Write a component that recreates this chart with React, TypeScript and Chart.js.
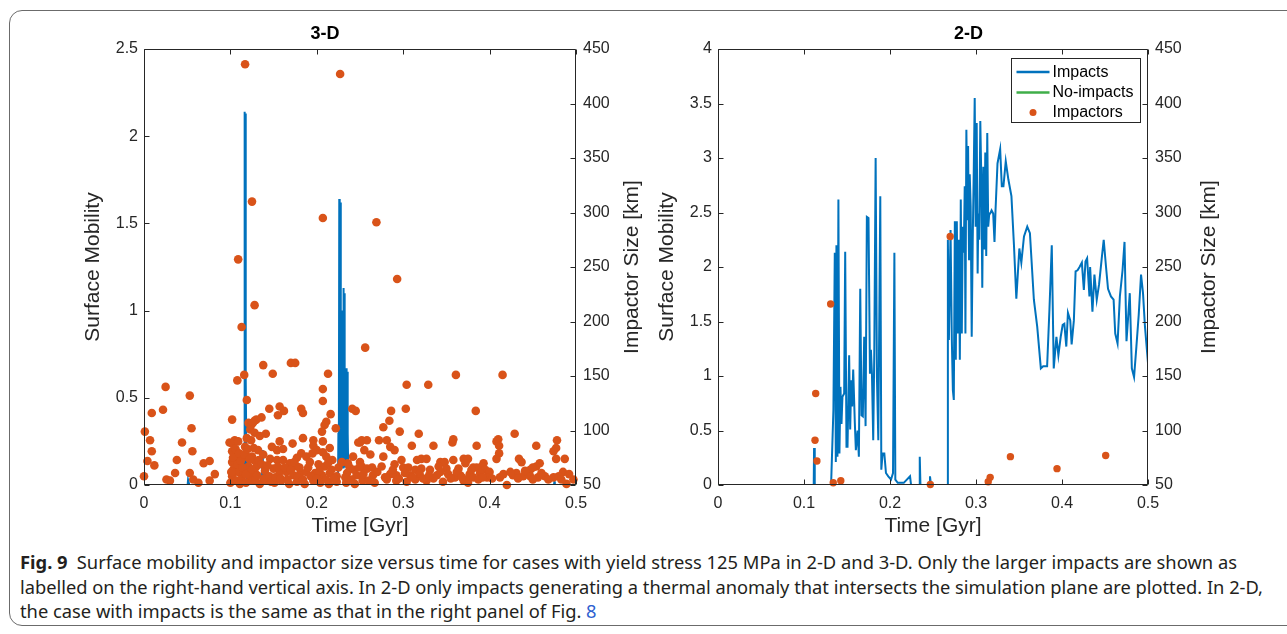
import React, { useEffect, useLayoutEffect, useRef } from 'react';
import { Chart, registerables } from 'chart.js';

Chart.register(...registerables);

// ---------------- Data ----------------
const X_TICKS = [0, 0.1, 0.2, 0.3, 0.4, 0.5];
const MOBILITY_TICKS_3D = [0, 0.5, 1, 1.5, 2, 2.5];
const MOBILITY_TICKS_2D = [0, 0.5, 1, 1.5, 2, 2.5, 3, 3.5, 4];
const SIZE_TICKS = [50, 100, 150, 200, 250, 300, 350, 400, 450];

// 3-D: surface mobility with impacts [time Gyr, mobility]
const IMPACTS_3D: [number, number][] = [
  [0, 0], [0.0505, 0], [0.051, 0.03], [0.052, 0.03], [0.0525, 0],
  [0.1155, 0], [0.116, 0.12], [0.1165, 2.14], [0.117, 0.35], [0.1175, 2.13], [0.118, 0.6],
  [0.1185, 0.15], [0.119, 0.05], [0.12, 0],
  [0.1365, 0], [0.137, 0.2], [0.1375, 0.18], [0.138, 0],
  [0.2245, 0], [0.225, 0.3], [0.2255, 0.1], [0.226, 1.64], [0.2265, 0.2], [0.227, 1.62],
  [0.2275, 0.15], [0.228, 0.59], [0.2285, 0.1], [0.229, 1.0], [0.2295, 0.2], [0.23, 0.5],
  [0.2305, 0.1], [0.231, 1.13], [0.2315, 0.15], [0.232, 1.1], [0.2325, 0.1], [0.233, 0.6],
  [0.2335, 0.12], [0.234, 0.67], [0.2345, 0.1], [0.235, 0.65], [0.2355, 0.08], [0.236, 0.3],
  [0.2365, 0.05], [0.237, 0.1], [0.238, 0],
  [0.4745, 0], [0.475, 0.02], [0.4755, 0], [0.5, 0],
];
const NO_IMPACTS_3D: [number, number][] = [[0, 0], [0.5, 0]];

// 3-D impactors [time Gyr, size km]
const IMPACTORS_3D: [number, number][] = [
  [0.117, 436], [0.227, 427], [0.125, 310], [0.207, 295], [0.269, 291], [0.293, 239], [0.109, 257],
  [0.128, 215], [0.113, 195], [0.256, 176], [0.170, 162], [0.175, 162], [0.138, 160], [0.116, 151],
  [0.108, 146], [0.149, 152], [0.213, 152], [0.361, 151], [0.415, 151], [0.304, 142], [0.329, 142],
  [0.025, 140], [0.053, 132], [0.207, 138], [0.207, 127], [0.119, 128], [0.009, 116], [0.022, 119],
  [0.102, 110], [0.145, 120], [0.157, 122], [0.182, 120], [0.184, 116], [0.303, 120], [0.286, 118],
  [0.384, 118], [0.241, 120], [0.245, 118], [0.001, 99], [0.055, 102], [0.007, 91], [0.044, 89],
  [0.318, 97], [0.429, 97], [0.357, 89], [0.277, 103], [0.284, 109],
  [0.009, 81], [0.056, 81], [0.038, 73], [0.004, 72], [0.012, 68], [0.069, 70], [0.076, 72],
  [0.036, 61], [0.053, 61], [0.082, 60], [0.000, 58], [0.026, 55], [0.030, 54], [0.057, 55],
  [0.063, 52], [0.076, 54],
  [0.099, 89], [0.102, 88], [0.105, 91], [0.109, 90], [0.102, 81], [0.107, 76], [0.102, 71],
  [0.104, 65], [0.109, 62], [0.102, 58], [0.107, 54], [0.113, 56], [0.121, 107], [0.124, 105],
  [0.128, 109], [0.119, 93], [0.124, 91], [0.117, 85], [0.119, 76], [0.127, 73], [0.121, 67],
  [0.115, 61], [0.123, 57], [0.128, 62], [0.100, 52], [0.111, 51], [0.118, 52],
  [0.162, 118], [0.155, 114], [0.216, 115], [0.211, 108], [0.209, 105], [0.206, 99], [0.222, 102],
  [0.130, 110], [0.136, 112], [0.126, 107], [0.123, 101], [0.128, 98], [0.134, 95], [0.141, 97],
  [0.248, 89], [0.252, 91], [0.157, 90], [0.172, 88], [0.184, 93], [0.196, 91], [0.207, 90],
  [0.148, 85], [0.154, 82], [0.161, 83], [0.196, 86], [0.200, 82], [0.215, 84], [0.182, 79],
  [0.188, 76], [0.177, 75], [0.211, 76], [0.218, 73], [0.127, 84], [0.132, 82], [0.125, 76],
  [0.138, 78], [0.146, 74], [0.154, 73], [0.161, 73], [0.169, 70], [0.177, 67], [0.192, 71],
  [0.202, 69], [0.209, 67], [0.242, 76], [0.250, 71], [0.238, 66], [0.130, 67], [0.140, 63],
  [0.150, 65], [0.157, 62], [0.165, 62], [0.173, 59], [0.181, 61], [0.188, 62], [0.198, 61],
  [0.206, 59], [0.215, 61], [0.223, 58], [0.235, 61], [0.246, 59], [0.252, 58],
  [0.126, 54], [0.134, 51], [0.142, 54], [0.151, 52], [0.159, 54], [0.168, 51], [0.177, 53],
  [0.186, 51], [0.196, 54], [0.204, 52], [0.214, 51], [0.223, 53], [0.234, 52], [0.244, 51],
  [0.253, 54],
  [0.296, 99], [0.272, 91], [0.258, 91], [0.281, 91], [0.250, 89], [0.358, 92], [0.285, 85],
  [0.290, 82], [0.310, 86], [0.335, 86], [0.277, 76], [0.298, 73], [0.290, 69], [0.316, 73],
  [0.321, 74], [0.327, 74], [0.343, 71], [0.348, 71], [0.358, 73], [0.370, 74], [0.375, 74],
  [0.372, 70], [0.252, 67], [0.258, 65], [0.264, 66], [0.300, 66], [0.306, 66], [0.314, 64],
  [0.321, 65], [0.331, 64], [0.341, 67], [0.350, 65], [0.364, 65], [0.381, 66],
  [0.254, 60], [0.265, 59], [0.285, 60], [0.292, 59], [0.308, 59], [0.319, 60], [0.339, 59],
  [0.352, 60], [0.366, 59], [0.377, 60],
  [0.260, 54], [0.267, 52], [0.281, 55], [0.292, 54], [0.304, 53], [0.314, 55], [0.327, 54],
  [0.335, 56], [0.346, 53], [0.360, 57], [0.370, 54], [0.375, 52],
  [0.410, 92], [0.408, 90], [0.385, 86], [0.411, 86], [0.478, 91], [0.477, 84], [0.474, 81],
  [0.454, 86], [0.411, 79], [0.408, 74], [0.434, 74], [0.437, 71], [0.458, 70], [0.454, 67],
  [0.477, 74], [0.487, 74], [0.393, 70], [0.391, 67], [0.385, 66], [0.395, 64], [0.389, 61],
  [0.400, 62], [0.447, 64], [0.450, 66], [0.431, 61], [0.427, 59], [0.485, 62], [0.377, 58],
  [0.381, 57], [0.397, 57], [0.412, 57], [0.439, 58], [0.447, 58], [0.456, 57], [0.464, 58],
  [0.474, 57], [0.480, 58], [0.420, 50], [0.489, 51], [0.497, 55],
  [0.101, 62], [0.103, 75], [0.106, 83], [0.108, 69], [0.110, 79], [0.112, 72], [0.114, 66],
  [0.116, 78], [0.118, 60], [0.120, 83], [0.122, 74], [0.125, 64], [0.129, 55], [0.131, 59],
  [0.133, 73], [0.136, 69], [0.139, 56], [0.143, 68], [0.145, 58], [0.147, 53], [0.152, 57],
  [0.155, 67], [0.158, 56], [0.163, 66], [0.166, 55], [0.170, 64], [0.174, 71], [0.178, 57],
  [0.180, 66], [0.184, 55], [0.190, 66], [0.193, 58], [0.195, 79], [0.200, 56], [0.203, 63],
  [0.207, 80], [0.211, 55], [0.213, 70], [0.217, 64], [0.220, 56], [0.225, 66], [0.229, 71],
  [0.233, 57], [0.236, 70], [0.240, 55], [0.243, 64], [0.249, 66], [0.255, 82], [0.262, 78],
  [0.270, 62], [0.275, 67], [0.279, 57], [0.288, 64], [0.295, 56], [0.302, 61], [0.311, 57],
  [0.323, 56], [0.330, 59], [0.343, 62], [0.355, 56], [0.362, 62], [0.368, 57], [0.379, 64],
  [0.387, 55], [0.392, 57], [0.403, 56], [0.416, 60], [0.424, 62], [0.433, 56], [0.441, 63],
  [0.450, 55], [0.460, 61], [0.468, 55], [0.483, 55], [0.492, 60],
];

// 2-D: surface mobility with impacts [time Gyr, mobility]
const IMPACTS_2D: [number, number][] = [
  [0, 0], [0.1113, 0], [0.1117, 0.34], [0.1125, 0], [0.1315, 0],
  [0.1342, 0.69], [0.1358, 2.13], [0.137, 0.21], [0.1377, 2.2], [0.1389, 0.26], [0.14, 2.62],
  [0.1412, 0.29], [0.1424, 0.9], [0.1436, 0.56], [0.1447, 0.81], [0.1467, 0.84], [0.1479, 2.14],
  [0.1494, 0.35], [0.1506, 0.35], [0.1525, 1.19], [0.1537, 0.51], [0.1549, 0.96], [0.156, 0.72],
  [0.1572, 1.06], [0.1591, 0.57], [0.1603, 0.32], [0.1623, 0.5], [0.1638, 0.26], [0.1654, 1.8],
  [0.1669, 0.64], [0.1684, 0.63], [0.17, 1.36], [0.1716, 0.54], [0.1731, 2.46], [0.175, 2.45],
  [0.1767, 1.02], [0.1778, 1.24], [0.179, 1.02], [0.1805, 0.41], [0.1817, 1.2], [0.1833, 3.0],
  [0.1848, 0.99], [0.1864, 0.41], [0.1887, 2.65], [0.1899, 0.14], [0.1914, 0.29], [0.1934, 0.29],
  [0.1953, 0.11], [0.198, 0.08], [0.2012, 0.05], [0.2035, 0.11], [0.2051, 2.13], [0.2062, 0.05],
  [0.209, 0.02], [0.216, 0.02], [0.2233, 0.08], [0.2245, 0], [0.2342, 0], [0.2346, 0.26],
  [0.2354, 0], [0.2454, 0], [0.2465, 0.08], [0.2477, 0], [0.2665, 0],
  [0.2673, 2.25], [0.2685, 1.33], [0.2704, 2.34], [0.2719, 1.33], [0.2731, 0.87], [0.2742, 0.78],
  [0.2754, 2.42], [0.2765, 1.15], [0.2777, 2.42], [0.2788, 1.39], [0.28, 2.25], [0.2812, 1.15],
  [0.2823, 2.62], [0.2835, 1.39], [0.2846, 2.37], [0.2858, 2.13], [0.2869, 2.74], [0.2877, 1.39],
  [0.2888, 3.26], [0.29, 2.43], [0.2908, 3.11], [0.2919, 2.07], [0.2927, 2.85], [0.2938, 2.56],
  [0.295, 1.36], [0.2962, 2.25], [0.2973, 2.83], [0.2985, 3.55], [0.2996, 2.37], [0.3008, 3.32],
  [0.3019, 1.94], [0.3027, 2.49], [0.3038, 2.25], [0.305, 3.34], [0.3062, 2.8], [0.3073, 1.81],
  [0.3085, 2.92], [0.3096, 2.16], [0.3108, 3.05], [0.3119, 2.1], [0.3131, 3.23], [0.3142, 2.37],
  [0.3154, 2.49], [0.3165, 2.49], [0.3181, 2.52], [0.32, 2.49], [0.3215, 2.23], [0.3227, 2.52],
  [0.325, 2.95], [0.3281, 3.08], [0.33, 2.74], [0.3319, 2.74], [0.3346, 2.97], [0.3377, 2.8],
  [0.3412, 2.65], [0.3442, 2.19], [0.3469, 1.71], [0.3504, 2.17], [0.3527, 2.04], [0.3558, 2.28],
  [0.3596, 2.37], [0.3627, 2.31], [0.3673, 1.7], [0.3712, 1.45], [0.3754, 1.07], [0.3781, 1.09],
  [0.3827, 1.09], [0.3854, 1.61], [0.3881, 2.2], [0.3904, 1.07], [0.3935, 1.36], [0.3958, 1.19],
  [0.3985, 1.36], [0.4008, 1.47], [0.4027, 1.48], [0.405, 1.27], [0.4069, 1.58], [0.4096, 1.51],
  [0.4112, 1.29], [0.4138, 1.51], [0.4158, 1.96], [0.4181, 1.97], [0.4204, 2.0], [0.4231, 2.04],
  [0.4254, 1.79], [0.4273, 2.05], [0.4292, 2.08], [0.4319, 1.73], [0.4327, 2.0], [0.4354, 1.59],
  [0.4377, 1.93], [0.4404, 1.7], [0.4431, 1.84], [0.4462, 2.08], [0.4485, 2.25], [0.4512, 2.0],
  [0.4535, 1.8], [0.4569, 1.73], [0.46, 1.7], [0.4619, 1.39], [0.4646, 1.3], [0.4673, 1.73],
  [0.4704, 1.97], [0.4727, 2.23], [0.475, 1.32], [0.4788, 1.76], [0.4812, 1.07], [0.4838, 0.99],
  [0.4865, 1.27], [0.4892, 1.56], [0.4919, 1.93], [0.4942, 1.76], [0.4965, 1.45], [0.5, 1.12],
];
const NO_IMPACTS_2D: [number, number][] = [[0, 0], [0.5, 0]];

// 2-D impactors [time Gyr, size km]
const IMPACTORS_2D: [number, number][] = [
  [0.1136, 134], [0.1128, 91], [0.115, 72], [0.131, 216], [0.134, 52], [0.1428, 54],
  [0.2469, 50.5], [0.27, 278], [0.3142, 53], [0.3165, 57], [0.34, 76], [0.3942, 65], [0.4508, 77],
];

const LEGEND_LABELS = ['Impacts', 'No-impacts', 'Impactors'];

// ---------------- Styles ----------------
const FONT = "Arial, Helvetica, sans-serif";
const AXIS_COLOR = '#262626';
const BLUE = '#0072BD';
const ORANGE = '#D95319';
const GREEN = '#3FAE49';
const TITLE_SIZE = 21;

type PanelCfg = {
  title: string;
  yMax: number;
  yTicks: number[];
  impacts: [number, number][];
  noImpacts: [number, number][];
  impactors: [number, number][];
  markerRadius: number;
  width: number;
  height: number;
  plotLeft: number;
  plotRight: number;
  leftTitlePad: number;
  rightTitleX: number;
  legend: boolean;
};

function axesPlugin(cfg: PanelCfg) {
  return {
    id: 'matlabAxes',
    afterDraw(chart: any) {
      const { ctx, chartArea: a, scales } = chart;
      const L = Math.round(a.left) + 0.5;
      const R = Math.round(a.right) - 0.5;
      const T = Math.round(a.top) + 0.5;
      const B = Math.round(a.bottom) - 0.5;
      const tl = 5;
      ctx.save();
      ctx.strokeStyle = AXIS_COLOR;
      ctx.lineWidth = 1;
      ctx.beginPath();
      ctx.rect(L, T, R - L, B - T);
      for (const v of X_TICKS) {
        const p = Math.round(scales.x.getPixelForValue(v)) + 0.5;
        ctx.moveTo(p, B); ctx.lineTo(p, B - tl);
        ctx.moveTo(p, T); ctx.lineTo(p, T + tl);
      }
      for (const v of cfg.yTicks) {
        const p = Math.round(scales.y.getPixelForValue(v)) + 0.5;
        ctx.moveTo(L, p); ctx.lineTo(L + tl, p);
      }
      for (const v of SIZE_TICKS) {
        const p = Math.round(scales.y1.getPixelForValue(v)) + 0.5;
        ctx.moveTo(R, p); ctx.lineTo(R - tl, p);
      }
      ctx.stroke();

      // right axis title (reads bottom-to-top, like the left one)
      ctx.save();
      ctx.translate(cfg.rightTitleX, (a.top + a.bottom) / 2);
      ctx.rotate(-Math.PI / 2);
      ctx.fillStyle = AXIS_COLOR;
      ctx.font = `${TITLE_SIZE}px ${FONT}`;
      ctx.textAlign = 'center';
      ctx.textBaseline = 'middle';
      ctx.fillText('Impactor Size [km]', 0, 0);
      ctx.restore();

      if (cfg.legend) {
        const w = 129, h = 64;
        const x0 = Math.round(a.right) - 8 - w + 0.5;
        const y0 = Math.round(a.top) + 9 + 0.5;
        ctx.fillStyle = '#ffffff';
        ctx.fillRect(x0, y0, w, h);
        ctx.strokeStyle = AXIS_COLOR;
        ctx.strokeRect(x0, y0, w, h);
        const rows = [13.5, 34, 54];
        const colors = [BLUE, GREEN, ORANGE];
        ctx.font = `16px ${FONT}`;
        ctx.textBaseline = 'middle';
        ctx.textAlign = 'left';
        LEGEND_LABELS.forEach((lab, i) => {
          const y = y0 + rows[i];
          if (i < 2) {
            ctx.strokeStyle = colors[i];
            ctx.lineWidth = 2.5;
            ctx.beginPath();
            ctx.moveTo(x0 + 5, y);
            ctx.lineTo(x0 + 38, y);
            ctx.stroke();
          } else {
            ctx.fillStyle = colors[i];
            ctx.beginPath();
            ctx.arc(x0 + 21.5, y, 3.5, 0, Math.PI * 2);
            ctx.fill();
          }
          ctx.fillStyle = '#000';
          ctx.fillText(lab, x0 + 41, y + 0.5);
        });
      }
      ctx.restore();
    },
  };
}

function Panel({ cfg }: { cfg: PanelCfg }) {
  const ref = useRef<HTMLCanvasElement | null>(null);
  useEffect(() => {
    if (!ref.current) return;
    const tickFont = { family: FONT, size: 16 };
    const toXY = (arr: [number, number][]) => arr.map(([x, y]) => ({ x, y }));
    const chart = new Chart(ref.current, {
      type: 'line',
      data: {
        datasets: [
          {
            label: 'Impacts',
            data: toXY(cfg.impacts),
            borderColor: BLUE,
            backgroundColor: BLUE,
            borderWidth: 2,
            pointRadius: 0,
            tension: 0,
            yAxisID: 'y',
            order: 3,
          },
          {
            label: 'No-impacts',
            data: toXY(cfg.noImpacts),
            borderColor: GREEN,
            backgroundColor: GREEN,
            borderWidth: 2,
            pointRadius: 0,
            yAxisID: 'y',
            order: 2,
          },
          {
            label: 'Impactors',
            data: toXY(cfg.impactors),
            showLine: false,
            backgroundColor: ORANGE,
            borderColor: ORANGE,
            borderWidth: 0,
            pointRadius: cfg.markerRadius,
            pointHoverRadius: cfg.markerRadius,
            yAxisID: 'y1',
            order: 1,
            clip: false,
          },
        ] as any,
      },
      options: {
        responsive: false,
        animation: false,
        events: [],
        layout: { padding: 0 },
        plugins: {
          legend: { display: false },
          tooltip: { enabled: false },
          title: {
            display: true,
            text: cfg.title,
            color: '#000',
            font: { family: FONT, size: 18, weight: 'bold' },
            padding: { top: 23, bottom: 4.4 },
          },
        },
        scales: {
          x: {
            type: 'linear',
            position: 'bottom',
            min: 0,
            max: 0.5,
            grid: { display: false, drawTicks: false },
            border: { display: false },
            afterBuildTicks: (s: any) => { s.ticks = X_TICKS.map((value) => ({ value })); },
            afterFit: (s: any) => { s.height = cfg.height - 485; },
            ticks: {
              font: tickFont, color: AXIS_COLOR, padding: 9, maxRotation: 0, autoSkip: false,
              callback: (v: any) => String(v),
            },
            title: {
              display: true, text: 'Time [Gyr]', color: AXIS_COLOR,
              font: { family: FONT, size: TITLE_SIZE }, padding: { top: 0, bottom: 6.4 },
            },
          },
          y: {
            type: 'linear',
            position: 'left',
            min: 0,
            max: cfg.yMax,
            grid: { display: false, drawTicks: false },
            border: { display: false },
            afterBuildTicks: (s: any) => { s.ticks = cfg.yTicks.map((value) => ({ value })); },
            afterFit: (s: any) => { s.width = cfg.plotLeft; },
            ticks: { font: tickFont, color: AXIS_COLOR, padding: 6, callback: (v: any) => String(v) },
            title: {
              display: true, text: 'Surface Mobility', color: AXIS_COLOR,
              font: { family: FONT, size: TITLE_SIZE }, padding: { top: cfg.leftTitlePad, bottom: 0 },
            },
          },
          y1: {
            type: 'linear',
            position: 'right',
            min: 50,
            max: 450,
            grid: { display: false, drawTicks: false },
            border: { display: false },
            afterBuildTicks: (s: any) => { s.ticks = SIZE_TICKS.map((value) => ({ value })); },
            afterFit: (s: any) => { s.width = cfg.width - cfg.plotRight; },
            ticks: { font: tickFont, color: AXIS_COLOR, padding: 7, callback: (v: any) => String(v) },
          },
        },
      } as any,
      plugins: [axesPlugin(cfg)],
    });
    return () => chart.destroy();
  }, [cfg]);
  return <canvas ref={ref} width={cfg.width} height={cfg.height} style={{ display: 'block' }} />;
}

const PANEL_3D: PanelCfg = {
  title: '3-D', yMax: 2.5, yTicks: MOBILITY_TICKS_3D,
  impacts: IMPACTS_3D, noImpacts: NO_IMPACTS_3D, impactors: IMPACTORS_3D, markerRadius: 4.3,
  width: 650, height: 545, plotLeft: 144, plotRight: 576, leftTitlePad: 80.4, rightTitleX: 632, legend: false,
};
const PANEL_2D: PanelCfg = {
  title: '2-D', yMax: 4, yTicks: MOBILITY_TICKS_2D,
  impacts: IMPACTS_2D, noImpacts: NO_IMPACTS_2D, impactors: IMPACTORS_2D, markerRadius: 3.7,
  width: 637, height: 545, plotLeft: 68, plotRight: 498, leftTitlePad: 4.6, rightTitleX: 559, legend: true,
};

const CAPTION_TARGET_WIDTHS = [1217, 1243];

export default function App() {
  const lineRefs = useRef<(HTMLSpanElement | null)[]>([]);
  useLayoutEffect(() => {
    const els = lineRefs.current;
    const factors: number[] = [];
    els.forEach((el, i) => {
      if (!el || i > 1) return;
      el.style.transform = 'none';
      const w = el.getBoundingClientRect().width;
      const f = CAPTION_TARGET_WIDTHS[i] / w;
      factors.push(f);
      el.style.transform = `scaleX(${f})`;
    });
    const avg = factors.reduce((s, f) => s + f, 0) / (factors.length || 1);
    if (els[2]) els[2].style.transform = `scaleX(${avg})`;
  }, []);

  const lineStyle: React.CSSProperties = {
    display: 'inline-block',
    whiteSpace: 'nowrap',
    transformOrigin: 'left center',
  };

  return (
    <div style={{ position: 'absolute', left: 0, top: 0, width: 1287, height: 634, overflow: 'hidden', background: '#fff' }}>
      <div
        style={{
          position: 'absolute', left: 9, top: 10, width: 1320, height: 616,
          border: '1px solid #6b6b6b', borderRadius: 13, boxSizing: 'border-box',
        }}
      />
      <div style={{ position: 'absolute', left: 0, top: 0 }}>
        <Panel cfg={PANEL_3D} />
      </div>
      <div style={{ position: 'absolute', left: 650, top: 0 }}>
        <Panel cfg={PANEL_2D} />
      </div>
      <div
        style={{
          position: 'absolute', left: 20, top: 550, width: 1300,
          fontFamily: "'Noto Sans', 'Open Sans', sans-serif", fontSize: 18.5, lineHeight: '24.5px', color: '#231f20',
        }}
      >
        <div>
          <span ref={(el) => { lineRefs.current[0] = el; }} style={lineStyle}>
            <b>Fig. 9</b>{'\u2002'}Surface mobility and impactor size versus time for cases with yield stress 125 MPa in 2-D and 3-D. Only the larger impacts are shown as
          </span>
        </div>
        <div>
          <span ref={(el) => { lineRefs.current[1] = el; }} style={lineStyle}>
            labelled on the right-hand vertical axis. In 2-D only impacts generating a thermal anomaly that intersects the simulation plane are plotted. In 2-D,
          </span>
        </div>
        <div>
          <span ref={(el) => { lineRefs.current[2] = el; }} style={lineStyle}>
            the case with impacts is the same as that in the right panel of Fig. <span style={{ color: '#2f5fd0' }}>8</span>
          </span>
        </div>
      </div>
    </div>
  );
}
